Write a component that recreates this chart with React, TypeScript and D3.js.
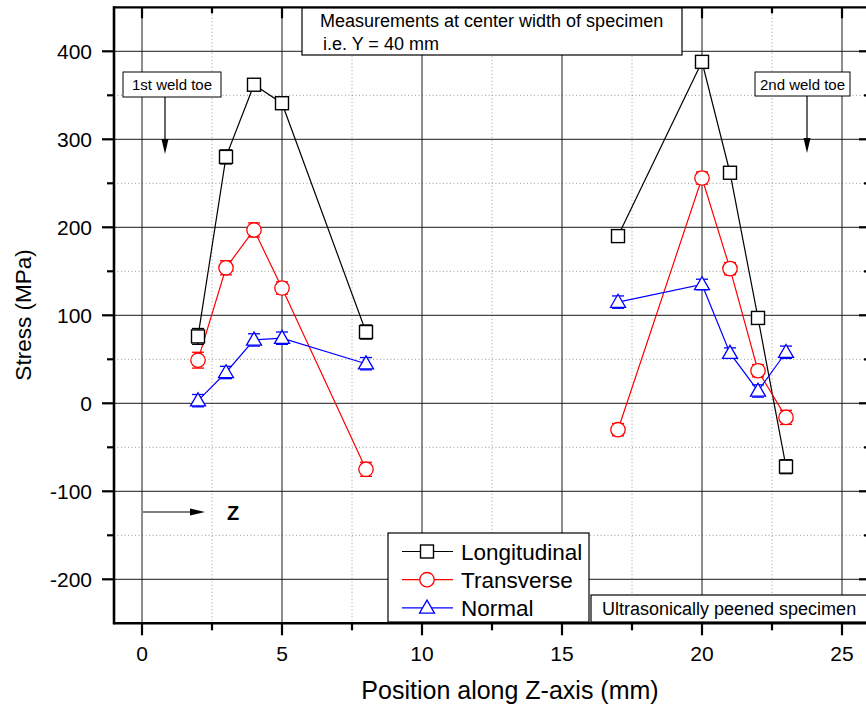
import React from "react";
import * as d3 from "d3";

// Measurement positions along the Z-axis (mm)
const positions = [2, 3, 4, 5, 8, 17, 20, 21, 22, 23];
// Residual stress (MPa) per component
const longitudinal = [76, 280, 362, 341, 81, 190, 388, 262, 97, -72];
const transverse = [49, 154, 197, 131, -75, -30, 256, 153, 37, -16];
const normal = [3, 35, 72, 74, 45, 115, 135, 57, 14, 58];
// Measurement uncertainty (MPa)
const longitudinalErr = [9, 8, 6, 6, 8, 5, 5, 6, 6, 8];
const transverseErr = [9, 8, 8, 7, 8, 7, 7, 7, 7, 8];
const normalErr = [7, 7, 7, 7, 7, 7, 6, 6, 7, 7];

const seriesNames = ["Longitudinal", "Transverse", "Normal"];
const seriesColors = ["#000000", "#ff0000", "#0000ff"];
const seriesMarkers = ["square", "circle", "triangle"];

const xTicks = [0, 5, 10, 15, 20, 25];
const xMinorTicks = [2.5, 7.5, 12.5, 17.5, 22.5];
const yTicks = [-200, -100, 0, 100, 200, 300, 400];
const yMinorTicks = [-150, -50, 50, 150, 250, 350];

const W = 866;
const H = 713;
const FONT = "'Liberation Sans', Arial, sans-serif";

const x = d3.scaleLinear().domain([-1, 26]).range([114, 870]);
const y = d3.scaleLinear().domain([-250, 450]).range([623.3, 7.3]);

const seriesValues = [longitudinal, transverse, normal];
const seriesErrors = [longitudinalErr, transverseErr, normalErr];

// split a series into runs of consecutive measurements (gap = different weld toe)
function segmentsOf(values: number[]) {
  const segs: [number, number][][] = [];
  let cur: [number, number][] = [];
  positions.forEach((p, i) => {
    if (i > 0 && p - positions[i - 1] > 5) {
      segs.push(cur);
      cur = [];
    }
    cur.push([p, values[i]]);
  });
  segs.push(cur);
  return segs;
}

const line = d3
  .line<[number, number]>()
  .x((d) => x(d[0]))
  .y((d) => y(d[1]));

function Marker({ kind, cx, cy, color }: { kind: string; cx: number; cy: number; color: string }) {
  if (kind === "square") {
    return <rect x={cx - 6.5} y={cy - 6.5} width={13} height={13} fill="#fff" stroke={color} strokeWidth={1.4} />;
  }
  if (kind === "circle") {
    return <circle cx={cx} cy={cy} r={7.2} fill="#fff" stroke={color} strokeWidth={1.3} />;
  }
  const h = 13;
  const w = 15;
  const pts = `${cx},${cy - h * 0.6} ${cx - w / 2},${cy + h * 0.4} ${cx + w / 2},${cy + h * 0.4}`;
  return <polygon points={pts} fill="#fff" stroke={color} strokeWidth={1.3} />;
}

function Arrow({ x1, y1, x2, y2 }: { x1: number; y1: number; x2: number; y2: number }) {
  const ang = Math.atan2(y2 - y1, x2 - x1);
  const len = 15;
  const half = 3.5;
  const bx = x2 - len * Math.cos(ang);
  const by = y2 - len * Math.sin(ang);
  const px = -Math.sin(ang) * half;
  const py = Math.cos(ang) * half;
  return (
    <g>
      <line x1={x1} y1={y1} x2={bx} y2={by} stroke="#000" strokeWidth={1.2} />
      <polygon points={`${x2},${y2} ${bx + px},${by + py} ${bx - px},${by - py}`} fill="#000" />
    </g>
  );
}

export default function App() {
  const [x0, x1] = x.range();
  const [yb, yt] = y.range();

  return (
    <svg
      width={W}
      height={H}
      viewBox={`0 0 ${W} ${H}`}
      style={{ position: "absolute", left: 0, top: 0, background: "#fff" }}
      fontFamily={FONT}
    >
      <rect x={0} y={0} width={W} height={H} fill="#fff" />

      {/* minor grid */}
      <g stroke="#9a9a9a" strokeWidth={1} strokeDasharray="1,2.5">
        {xMinorTicks.map((t) => (
          <line key={"gx" + t} x1={x(t)} x2={x(t)} y1={yt} y2={yb} />
        ))}
        {yMinorTicks.map((t) => (
          <line key={"gy" + t} x1={x0} x2={x1} y1={y(t)} y2={y(t)} />
        ))}
      </g>
      {/* major grid */}
      <g stroke="#1a1a1a" strokeWidth={1}>
        {xTicks.map((t) => (
          <line key={"Gx" + t} x1={x(t)} x2={x(t)} y1={yt} y2={yb} />
        ))}
        {yTicks.map((t) => (
          <line key={"Gy" + t} x1={x0} x2={x1} y1={y(t)} y2={y(t)} />
        ))}
      </g>

      {/* series lines */}
      {seriesValues.map((vals, si) =>
        segmentsOf(vals).map((seg, k) => (
          <path key={`l${si}-${k}`} d={line(seg) || ""} fill="none" stroke={seriesColors[si]} strokeWidth={1.2} />
        ))
      )}

      {/* error bars and markers */}
      {seriesValues.map((vals, si) => (
        <g key={"m" + si}>
          {positions.map((p, i) => {
            const cx = x(p);
            const lo = y(vals[i] - seriesErrors[si][i]);
            const hi = y(vals[i] + seriesErrors[si][i]);
            return (
              <g key={i} stroke={seriesColors[si]} strokeWidth={1.3}>
                <line x1={cx} x2={cx} y1={lo} y2={hi} />
                <line x1={cx - 6} x2={cx + 6} y1={lo} y2={lo} />
                <line x1={cx - 6} x2={cx + 6} y1={hi} y2={hi} />
              </g>
            );
          })}
          {positions.map((p, i) => (
            <Marker key={"k" + i} kind={seriesMarkers[si]} cx={x(p)} cy={y(vals[i])} color={seriesColors[si]} />
          ))}
        </g>
      ))}

      {/* axes frame */}
      <line x1={x0} x2={x0} y1={yt - 1} y2={yb + 1} stroke="#000" strokeWidth={2.6} />
      <line x1={x0 - 1} x2={x1} y1={yb} y2={yb} stroke="#000" strokeWidth={2.6} />
      <line x1={x0 - 1} x2={x1} y1={yt} y2={yt} stroke="#000" strokeWidth={2.2} />
      <line x1={x1} x2={x1} y1={yt} y2={yb} stroke="#000" strokeWidth={2.2} />

      {/* ticks */}
      <g stroke="#000" strokeWidth={2.2}>
        {xTicks.map((t) => (
          <g key={"tx" + t}>
            <line x1={x(t)} x2={x(t)} y1={yb} y2={yb + 12} />
            <line x1={x(t)} x2={x(t)} y1={yt} y2={yt + 11} />
          </g>
        ))}
        {xMinorTicks.map((t) => (
          <g key={"mx" + t}>
            <line x1={x(t)} x2={x(t)} y1={yb} y2={yb + 7} />
            <line x1={x(t)} x2={x(t)} y1={yt} y2={yt + 6} />
          </g>
        ))}
        {yTicks.map((t) => (
          <g key={"ty" + t}>
            <line x1={x0 - 12} x2={x0} y1={y(t)} y2={y(t)} />
            <line x1={x1 - 11} x2={x1} y1={y(t)} y2={y(t)} />
          </g>
        ))}
        {yMinorTicks.map((t) => (
          <g key={"my" + t}>
            <line x1={x0 - 7} x2={x0} y1={y(t)} y2={y(t)} />
            <line x1={x1 - 6} x2={x1} y1={y(t)} y2={y(t)} />
          </g>
        ))}
      </g>

      {/* tick labels */}
      <g fontSize={21} fill="#000">
        {xTicks.map((t) => (
          <text key={"lx" + t} x={x(t)} y={661} textAnchor="middle">
            {t}
          </text>
        ))}
        {yTicks.map((t) => (
          <text key={"ly" + t} x={92} y={y(t) + 7.5} textAnchor="end">
            {t}
          </text>
        ))}
      </g>

      {/* axis titles */}
      <text x={510} y={699} fontSize={25} textAnchor="middle">
        Position along Z-axis (mm)
      </text>
      <text transform={`translate(31,${315}) rotate(-90)`} fontSize={22.5} textAnchor="middle">
        Stress (MPa)
      </text>

      {/* heading box */}
      <rect x={302} y={8} width={380} height={47} fill="#fff" stroke="#000" strokeWidth={1.2} />
      <text x={320} y={27} fontSize={18}>
        Measurements at center width of specimen
      </text>
      <text x={323} y={50} fontSize={18}>
        i.e. Y = 40 mm
      </text>

      {/* weld toe markers */}
      <rect x={123} y={72} width={98} height={25} fill="#fff" stroke="#000" strokeWidth={1} />
      <text x={172} y={90} fontSize={15} textAnchor="middle">
        1st weld toe
      </text>
      <Arrow x1={165} y1={97} x2={165} y2={154} />

      <rect x={755} y={72} width={95} height={24} fill="#fff" stroke="#000" strokeWidth={1} />
      <text x={802.5} y={89.5} fontSize={15} textAnchor="middle">
        2nd weld toe
      </text>
      <Arrow x1={807} y1={96} x2={807} y2={153} />

      {/* direction indicator */}
      <Arrow x1={143} y1={512} x2={205} y2={512} />
      <text x={233} y={520} fontSize={20} fontWeight="bold" textAnchor="middle">
        Z
      </text>

      {/* legend */}
      <rect x={388} y={533} width={201} height={89} fill="#fff" stroke="#000" strokeWidth={1.2} />
      {seriesNames.map((name, i) => {
        const ly = 551.5 + i * 28.2;
        return (
          <g key={name}>
            <line x1={402} x2={453} y1={ly} y2={ly} stroke={seriesColors[i]} strokeWidth={1.2} />
            <Marker kind={seriesMarkers[i]} cx={427} cy={ly} color={seriesColors[i]} />
            <text x={461} y={ly + 8} fontSize={22.5}>
              {name}
            </text>
          </g>
        );
      })}

      {/* specimen note */}
      <rect x={591} y={595} width={290} height={27} fill="#fff" stroke="#000" strokeWidth={1.2} />
      <text x={602} y={615} fontSize={18}>
        Ultrasonically peened specimen
      </text>
    </svg>
  );
}
